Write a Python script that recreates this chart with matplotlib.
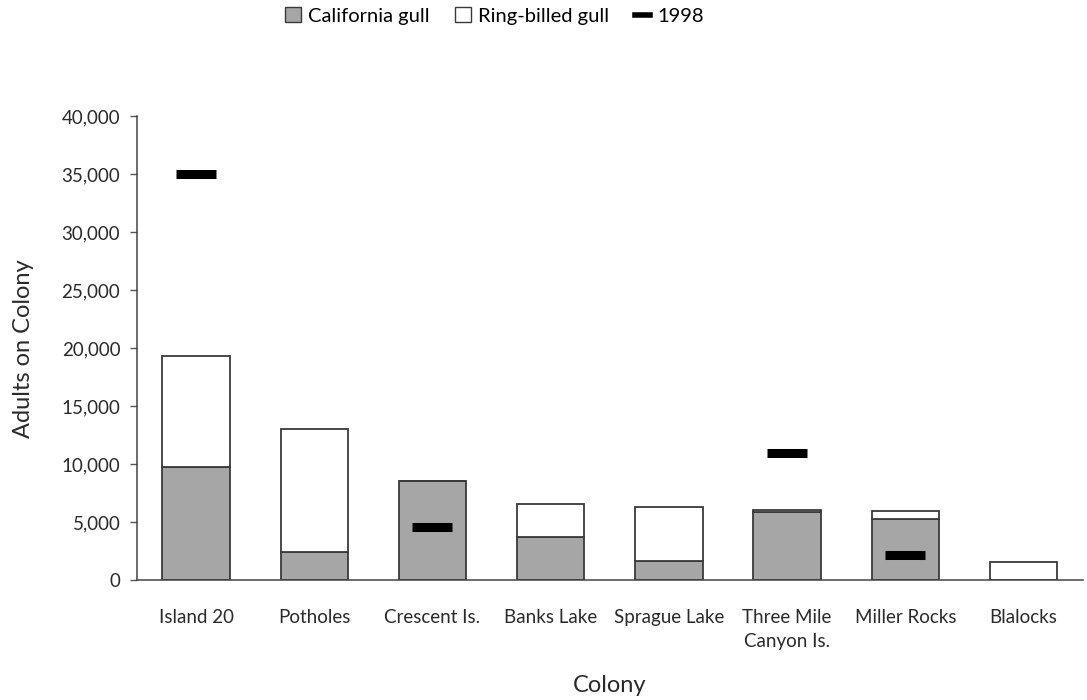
import numpy as np
import matplotlib.pyplot as plt
from matplotlib.patches import Patch
from matplotlib.lines import Line2D
from matplotlib.ticker import FuncFormatter

plt.rcParams['font.family'] = ['Lato', 'DejaVu Sans']

colonies = ["Island 20", "Potholes", "Crescent Is.", "Banks Lake", "Sprague Lake",
            "Three Mile\nCanyon Is.", "Miller Rocks", "Blalocks"]
california = [9800, 2400, 8550, 3700, 1700, 5900, 5250, 0]
ring_billed = [9500, 10600, 0, 2850, 4600, 200, 700, 1600]
# 1998 counts (None = no marker)
counts_1998 = [35000, None, 4600, None, None, 11000, 2150, None]

fig = plt.figure(figsize=(10.87, 7), dpi=100)
ax = fig.add_axes([0.126, 0.171, 0.87, 0.663])

x = np.arange(len(colonies))
w = 0.57
edge = '#3a3a3a'
ax.bar(x, california, w, color='#a6a6a6', edgecolor=edge, linewidth=1.3)
ax.bar(x, ring_billed, w, bottom=california, color='white', edgecolor=edge, linewidth=1.3)

xs = [xi for xi, v in zip(x, counts_1998) if v is not None]
ys = [v for v in counts_1998 if v is not None]
ax.plot(xs, ys, linestyle='none', marker='_', color='black', markersize=29, markeredgewidth=6.5)

ax.set_xlim(-0.5, len(colonies) - 0.5)
ax.set_ylim(0, 40000)
ax.set_yticks(np.arange(0, 40001, 5000))
ax.yaxis.set_major_formatter(FuncFormatter(lambda v, p: f"{int(v):,}"))
ax.set_xticks(x)
ax.set_xticklabels(colonies, linespacing=1.5)
ax.tick_params(axis='x', length=0, pad=21, labelsize=13.5, colors='#2a2a2a')
ax.tick_params(axis='y', length=5, width=1, color='#555555', labelsize=13.5, colors='#2a2a2a', pad=7)
for s in ['top', 'right']:
    ax.spines[s].set_visible(False)
for s in ['left', 'bottom']:
    ax.spines[s].set_color('#444444')
    ax.spines[s].set_linewidth(1.1)

ax.set_ylabel("Adults on Colony", fontsize=17, color='#2a2a2a', labelpad=20)
ax.set_xlabel("Colony", fontsize=17, color='#2a2a2a', labelpad=18)

handles = [Patch(facecolor='#a6a6a6', edgecolor=edge, label='California gull'),
           Patch(facecolor='white', edgecolor=edge, label='Ring-billed gull'),
           Line2D([], [], color='black', linewidth=4, label='1998')]
fig.legend(handles=handles, loc='center', bbox_to_anchor=(0.455, 0.977), ncol=3, frameon=False,
           fontsize=14.5, handlelength=0.75, handleheight=0.75, handletextpad=0.35, columnspacing=1.3)

fig.savefig('out.png', dpi=100)
